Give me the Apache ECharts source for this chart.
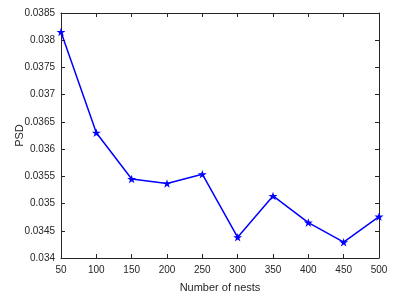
<!DOCTYPE html>
<html>
<head>
<meta charset="utf-8">
<script src="https://cdn.jsdelivr.net/npm/echarts@6/dist/echarts.min.js"></script>
<style>html,body{margin:0;padding:0;background:#fff;}#c{width:393px;height:299px;}</style>
</head>
<body>
<div id="c"></div>
<script>
var nests = [50, 100, 150, 200, 250, 300, 350, 400, 450, 500];
var psd = [0.03815, 0.0363, 0.03545, 0.03537, 0.03554, 0.03438, 0.03514, 0.03465, 0.03429, 0.03476];
var xLabel = 'Number of nests';
var yLabel = 'PSD';

var star = 'path://M50 0 L61.17 34.63 L97.55 34.55 L68.07 55.87 L79.39 90.45 L50 69 L20.61 90.45 L31.93 55.87 L2.45 34.55 L38.83 34.63 Z';
var font = 'Liberation Sans, Arial, Helvetica, sans-serif';
var axisColor = '#262626';

var chart = echarts.init(document.getElementById('c'), null, {renderer: 'canvas'});
var common = {
  axisLine: {show: true, lineStyle: {color: axisColor, width: 1}},
  axisTick: {show: true, inside: true, length: 4, lineStyle: {color: axisColor}},
  splitLine: {show: false}
};
function fmt(v) { return String(parseFloat(v.toFixed(6))); }
chart.setOption({
  animation: false,
  backgroundColor: '#fff',
  grid: {left: 61, right: 14, top: 13, bottom: 41, containLabel: false},
  xAxis: [
    Object.assign({
      type: 'value', min: 50, max: 500, interval: 50, position: 'bottom',
      name: xLabel, nameLocation: 'middle', nameGap: 24, nameMoveOverlap: false,
      nameTextStyle: {color: axisColor, fontSize: 11, fontFamily: font},
      axisLabel: {color: axisColor, fontSize: 10, fontFamily: font, margin: 7}
    }, common),
    Object.assign({
      type: 'value', min: 50, max: 500, interval: 50, position: 'top',
      axisLabel: {show: false}
    }, common)
  ],
  yAxis: [
    Object.assign({
      type: 'value', min: 0.034, max: 0.0385, interval: 0.0005, position: 'left',
      name: yLabel, nameLocation: 'middle', nameGap: 36, nameRotate: 90, nameMoveOverlap: false,
      nameTextStyle: {color: axisColor, fontSize: 11, fontFamily: font},
      axisLabel: {color: axisColor, fontSize: 10, fontFamily: font, margin: 6, formatter: fmt}
    }, common),
    Object.assign({
      type: 'value', min: 0.034, max: 0.0385, interval: 0.0005, position: 'right',
      axisLabel: {show: false}
    }, common)
  ],
  series: [{
    type: 'line',
    data: nests.map(function (n, i) { return [n, psd[i]]; }),
    lineStyle: {color: '#0000ff', width: 1.5},
    itemStyle: {color: '#0000ff'},
    symbol: star,
    symbolSize: 9,
    symbolKeepAspect: true
  }]
});
</script>
</body>
</html>
